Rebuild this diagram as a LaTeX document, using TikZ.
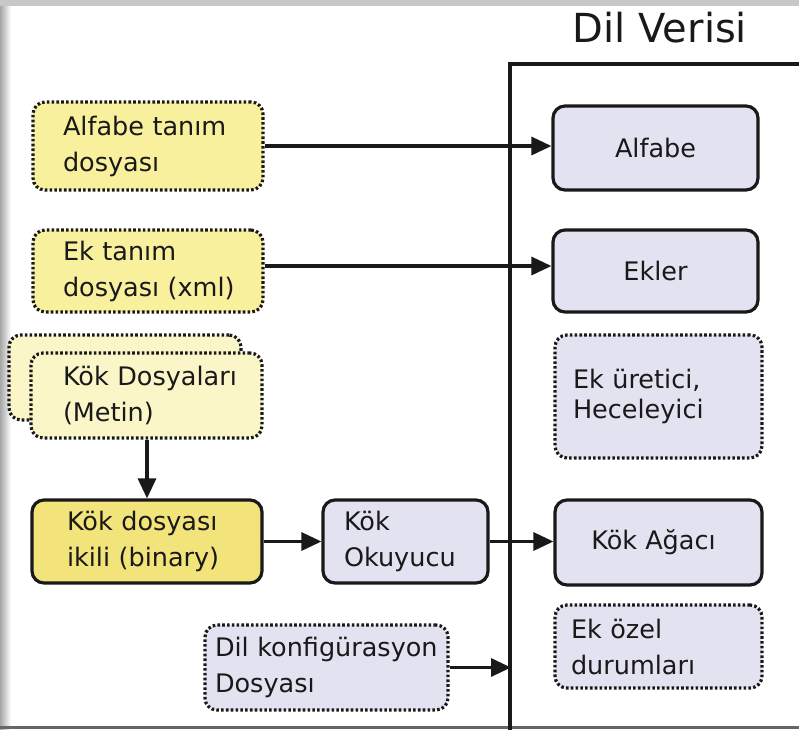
\documentclass[tikz,border=0pt]{standalone}
\usepackage{fontspec}
\setmainfont{DejaVu Sans}
\usetikzlibrary{arrows.meta}
\definecolor{yel}{RGB}{248,240,156}
\definecolor{yeldark}{RGB}{242,228,122}
\definecolor{yellight}{RGB}{251,246,200}
\definecolor{lav}{RGB}{226,226,240}
\definecolor{ink}{RGB}{25,25,25}
\newcommand{\oneline}[1]{\mbox{#1}}
\tikzset{
  basebox/.style={rounded corners=12pt, line width=3.2pt, draw=ink, text=ink,
    font=\fontsize{25.5}{36}\selectfont, align=left, inner ysep=0pt},
  dotbox/.style={basebox, dash pattern=on 2.6pt off 2.2pt},
  solidbox/.style={basebox},
  arr/.style={line width=3.2pt, draw=ink, -{Triangle[length=20pt,width=18pt]}},
}
\begin{document}
\begin{tikzpicture}[x=1pt,y=-1pt]
\useasboundingbox (0,0) rectangle (799,729);
\fill[white] (0,0) rectangle (799,729);
% frame
\shade[left color=black!35, right color=white] (0,0) rectangle (11,729);
\fill[black!22] (0,0) rectangle (799,6);
\fill[black!60] (0,726) rectangle (799,729);

% title and container
\node[font=\fontsize{40}{44}\selectfont, text=ink, anchor=base] (title) at (660,42) {Dil Verisi};
\draw[line width=3.2pt, draw=ink] (510,735) -- (510,64) -- (805,64);
\coordinate (cin) at (511,667);

% left column
\node[dotbox, fill=yel, text width=170pt, inner xsep=30pt, minimum height=88pt] (altd) at (148,146) {\oneline{Alfabe tanım}\\\oneline{dosyası}};
\node[dotbox, fill=yel, text width=170pt, inner xsep=30pt, minimum height=82pt] (ektd) at (148,271) {\oneline{Ek tanım}\\\oneline{dosyası (xml)}};
\node[dotbox, fill=yellight, minimum width=232pt, minimum height=85pt] (kokback) at (125,377.5) {};
\node[dotbox, fill=yellight, text width=167pt, inner xsep=32pt, minimum height=85pt] (kokfront) at (146.5,395.5) {\oneline{Kök Dosyaları}\\\oneline{(Metin)}};
\node[solidbox, fill=yeldark, text width=160pt, inner xsep=35pt, minimum height=83pt] (kokbin) at (147,541.5) {\oneline{Kök dosyası}\\\oneline{ikili (binary)}};
\node[solidbox, fill=lav, text width=123pt, inner xsep=21pt, minimum height=83pt] (okuyucu) at (405.5,541.5) {\oneline{Kök}\\\oneline{Okuyucu}};
\node[dotbox, fill=lav, text width=223pt, inner xsep=10pt, minimum height=85pt] (dilkonf) at (326.5,667.5) {\oneline{Dil konfigürasyon}\\\oneline{Dosyası}};

% right column
\node[solidbox, fill=lav, align=center, minimum width=205pt, minimum height=84pt] (alfabe) at (655.5,148) {Alfabe};
\node[solidbox, fill=lav, align=center, minimum width=205pt, minimum height=82pt] (ekler) at (655.5,271) {Ekler};
\node[dotbox, fill=lav, text width=171pt, inner xsep=18pt, minimum height=123pt, font=\fontsize{25.5}{30}\selectfont] (ekuret) at (658.5,396.5) {\oneline{Ek üretici,}\\\oneline{Heceleyici}};
\node[solidbox, fill=lav, align=center, minimum width=207pt, minimum height=85pt] (kokagac) at (658.5,542.5) {Kök Ağacı\hspace*{10pt}};
\node[dotbox, fill=lav, text width=175pt, inner xsep=16pt, minimum height=83pt] (ekozel) at (658.5,646.5) {\oneline{Ek özel}\\\oneline{durumları}};

% connectors
\draw[arr] (altd.east) -- (altd.east -| alfabe.west);
\draw[arr] (ektd.east |- 0,266) -- (alfabe.west |- 0,266);
\draw[arr] (kokfront.south -| 147,0) -- (kokbin.north -| 147,0);
\draw[arr] (kokbin.east) -- (okuyucu.west);
\draw[arr] (okuyucu.east) -- (okuyucu.east -| kokagac.west);
\draw[arr] (dilkonf.east) -- (dilkonf.east -| cin);
\end{tikzpicture}
\end{document}
